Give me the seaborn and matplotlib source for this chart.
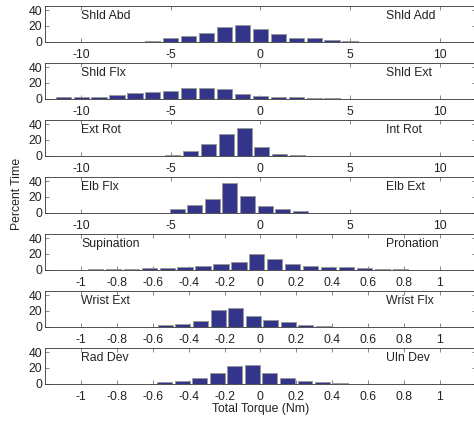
import numpy as np
import pandas as pd
import matplotlib
matplotlib.use("Agg")
import matplotlib.pyplot as plt
import seaborn as sns

# ---------------- data ----------------
shld_abd_x = [-6, -5, -4, -3, -2, -1, 0, 1, 2, 3, 4, 5]
shld_abd_pct = [1.0, 4.5, 6.5, 11.4, 18.5, 21.0, 15.6, 9.7, 4.8, 4.0, 2.2, 1.2]

shld_flx_x = [-11, -10, -9, -8, -7, -6, -5, -4, -3, -2, -1, 0, 1, 2, 3, 4]
shld_flx_pct = [1.6, 1.6, 2.4, 4.0, 7.0, 8.8, 10.0, 13.2, 13.2, 12.2, 6.3, 3.2, 2.4, 1.6, 0.8, 0.8]

ext_rot_x = [-4.9, -3.9, -2.9, -1.9, -0.9, 0.08, 1.06, 2.05]
ext_rot_pct = [1.0, 6.0, 15.0, 27.7, 35.0, 11.0, 2.0, 1.0]

elb_flx_x = [-4.65, -3.67, -2.69, -1.71, -0.72, 0.26, 1.24, 2.22]
elb_flx_pct = [4.7, 9.0, 16.8, 38.0, 21.0, 8.2, 4.0, 1.5]

sup_x = [-0.92, -0.82, -0.72, -0.62, -0.52, -0.42, -0.32, -0.22, -0.12, -0.02,
         0.08, 0.18, 0.28, 0.38, 0.48, 0.58, 0.68, 0.78]
sup_pct = [0.5, 0.8, 1.0, 1.7, 2.3, 3.2, 4.8, 7.0, 10.2, 19.2,
           12.9, 7.0, 4.5, 3.4, 2.6, 1.7, 1.0, 0.8]

wrist_x = [-0.53, -0.432, -0.334, -0.236, -0.138, -0.04, 0.058, 0.156, 0.254, 0.352]
wrist_pct = [2.3, 3.3, 7.3, 21.5, 24.0, 14.0, 8.9, 5.8, 2.3, 0.9]

rad_x = [-0.535, -0.437, -0.339, -0.241, -0.143, -0.045, 0.053, 0.151, 0.249, 0.347, 0.445]
rad_pct = [1.3, 3.0, 6.4, 13.5, 22.5, 23.6, 13.3, 6.4, 3.4, 1.3, 1.0]

left_labels = ["Shld Abd", "Shld Flx", "Ext Rot", "Elb Flx", "Supination", "Wrist Ext", "Rad Dev"]
right_labels = ["Shld Add", "Shld Ext", "Int Rot", "Elb Ext", "Pronation", "Wrist Flx", "Uln Dev"]

big_ticks = [-10, -5, 0, 5, 10]
small_ticks = [-1, -0.8, -0.6, -0.4, -0.2, 0, 0.2, 0.4, 0.6, 0.8, 1]
y_ticks = [0, 20, 40]

panels = [
    (shld_abd_x, shld_abd_pct, "big"),
    (shld_flx_x, shld_flx_pct, "big"),
    (ext_rot_x, ext_rot_pct, "big"),
    (elb_flx_x, elb_flx_pct, "big"),
    (sup_x, sup_pct, "small"),
    (wrist_x, wrist_pct, "small"),
    (rad_x, rad_pct, "small"),
]

# ---------------- style ----------------
sns.set_theme(style="ticks")
plt.rcParams["font.family"] = ["Liberation Sans", "DejaVu Sans"]
plt.rcParams["axes.unicode_minus"] = False

FS = 8.8
BAR = "#33358A"
EDGE = "#999999"

W, H = 474, 421
fig = plt.figure(figsize=(W / 100, H / 100), dpi=100)

left_px, right_px = 45.3, 475.5
ax_h_px = 35.2
for i, (xs, ys, kind) in enumerate(panels):
    base = 41.5 + 57.0 * i
    ax = fig.add_axes([left_px / W, (H - base) / H, (right_px - left_px) / W, ax_h_px / H])
    df = pd.DataFrame({"x": xs, "y": ys})
    sns.barplot(data=df, x="x", y="y", native_scale=True, width=0.85,
                color=BAR, saturation=1, edgecolor=EDGE, linewidth=0.7,
                errorbar=None, ax=ax)
    if kind == "big":
        ax.set_xlim(-12, 12)
        ax.set_xticks(big_ticks)
        ax.set_xticklabels([f"{t:g}" for t in big_ticks])
        lx, rx = -10, 7
    else:
        ax.set_xlim(-1.2, 1.2)
        ax.set_xticks(small_ticks)
        ax.set_xticklabels([f"{t:g}" for t in small_ticks])
        lx, rx = -1, 0.7
    ax.set_ylim(0, 45)
    ax.set_yticks(y_ticks)
    ax.set_xlabel("")
    ax.set_ylabel("")
    ax.text(lx, 32, left_labels[i], ha="left", va="center", fontsize=FS, color="#222222")
    ax.text(rx, 32, right_labels[i], ha="left", va="center", fontsize=FS, color="#222222")
    for s in ax.spines.values():
        s.set_visible(True)
        s.set_linewidth(0.6)
        s.set_color("#333333")
    ax.tick_params(axis="both", direction="in", length=3, width=0.5, color="#555555",
                   top=True, right=True, labelsize=FS, labelcolor="#222222")
    ax.tick_params(axis="x", pad=5.5)
    ax.tick_params(axis="y", pad=2)
    ax.set_facecolor("white")

fig.text(16.5 / W, 1 - 193.5 / H, "Percent Time", rotation=90, ha="center", va="center",
         fontsize=FS, color="#222222")
fig.text(261 / W, 1 - 409.3 / H, "Total Torque (Nm)", ha="center", va="center",
         fontsize=FS, color="#222222")

fig.savefig("out.png", dpi=100, facecolor="white")
